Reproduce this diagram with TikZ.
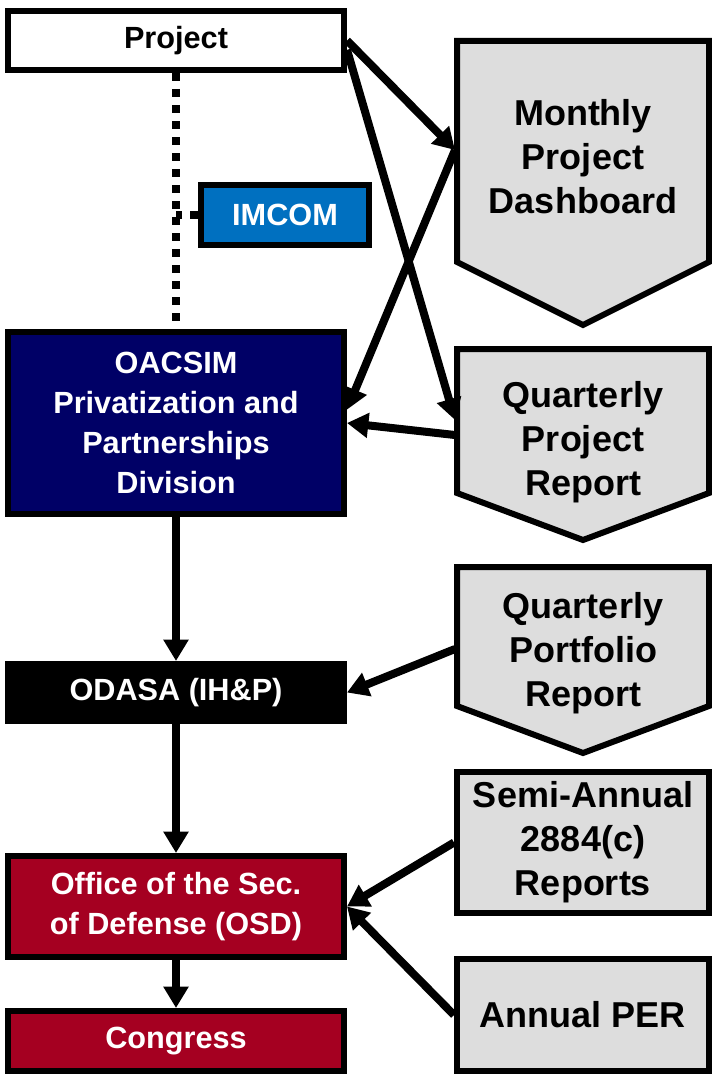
\documentclass[tikz,border=0pt]{standalone}
\usepackage{fontspec}
\setmainfont{Liberation Sans}
\usetikzlibrary{arrows.meta}
\definecolor{azul}{HTML}{0070C0}
\definecolor{marino}{HTML}{000066}
\definecolor{granate}{HTML}{A50021}
\definecolor{gris}{HTML}{DDDDDD}

\begin{document}
\begin{tikzpicture}[x=0.75pt, y=-0.75pt,
		box/.style={draw=black, line width=4.5pt, minimum width=252pt, inner sep=0pt,
			align=center, font=\bfseries\fontsize{23}{30}\selectfont},
		report/.style={draw=black, fill=gris, line width=4.5pt},
		reporttext/.style={align=center, inner sep=0pt, font=\bfseries\fontsize{27}{33}\selectfont},
		flow/.style={line width=6pt, -{Triangle[length=16pt, width=18pt]}},
		link/.style={line width=5.5pt, dash pattern=on 6pt off 6pt}]
				\useasboundingbox (0,0) rectangle (712,1074);

				\node[box, minimum height=44.25pt] (project) at (176,40.5) {Project};
				\node[box, fill=azul, text=white, minimum width=126pt, minimum height=45pt]
					(imcom) at (285,215) {IMCOM};
				\node[box, fill=marino, text=white, minimum height=136.5pt]
					(oacsim) at (176,423) {OACSIM\\Privatization and\\Partnerships\\Division};
				\node[box, fill=black, text=white, minimum height=42.75pt]
					(odasa) at (176,692.5) {ODASA (IH\&P)};
				\node[box, fill=granate, text=white, minimum height=75.75pt]
					(osd) at (176,906.5) {Office of the Sec.\\of Defense (OSD)};
				\node[box, fill=granate, text=white, minimum height=45pt]
					(congress) at (176,1041) {Congress};

				\draw[report] (457,41) -- (709,41) -- (709,262) -- (583,325) -- (457,262) -- cycle;
				\node[reporttext] (dashboard) at (583,157) {Monthly\\Project\\Dashboard};
				\draw[report] (457,349) -- (709,349) -- (709,493) -- (583,540) -- (457,493) -- cycle;
				\node[reporttext] (quarterly) at (583,442) {Quarterly\\Project\\Report};
				\draw[report] (457,567) -- (709,567) -- (709,706) -- (583,753) -- (457,706) -- cycle;
				\node[reporttext] (portfolio) at (583,653) {Quarterly\\Portfolio\\Report};
				\node[report, reporttext, minimum width=189pt, minimum height=105.75pt]
					(semiannual) at (583,842.5) {Semi-Annual\\2884(c)\\Reports};
				\node[report, reporttext, minimum width=189pt, minimum height=84pt]
					(annual) at (583,1015) {Annual PER};

				\coordinate (dashboardin) at (455,150);
				\coordinate (quarterlyin) at (455,420);
				\coordinate (quarterlyout) at (455,435);
				\coordinate (portfolioout) at (455,649);

				\draw[link] (project.south) -- (oacsim.north);
				\draw[link] (imcom.west) -- (imcom.west -| project.south);

				\draw[flow] (project.east) -- (dashboardin);
				\draw[flow] ([yshift=-7pt]project.east) -- (quarterlyin);
				\draw[flow] (dashboardin) -- ([yshift=10pt]oacsim.east);
				\draw[flow] (quarterlyout) -- (oacsim.east);
				\draw[flow] (oacsim.south) -- (odasa.north);
				\draw[flow] (portfolioout) -- (odasa.east);
				\draw[flow] (odasa.south) -- (osd.north);
				\draw[flow] (semiannual.west) -- (osd.east);
				\draw[flow] (annual.west) -- (osd.east);
				\draw[flow] (osd.south) -- (congress.north);
			\end{tikzpicture}
\end{document}
